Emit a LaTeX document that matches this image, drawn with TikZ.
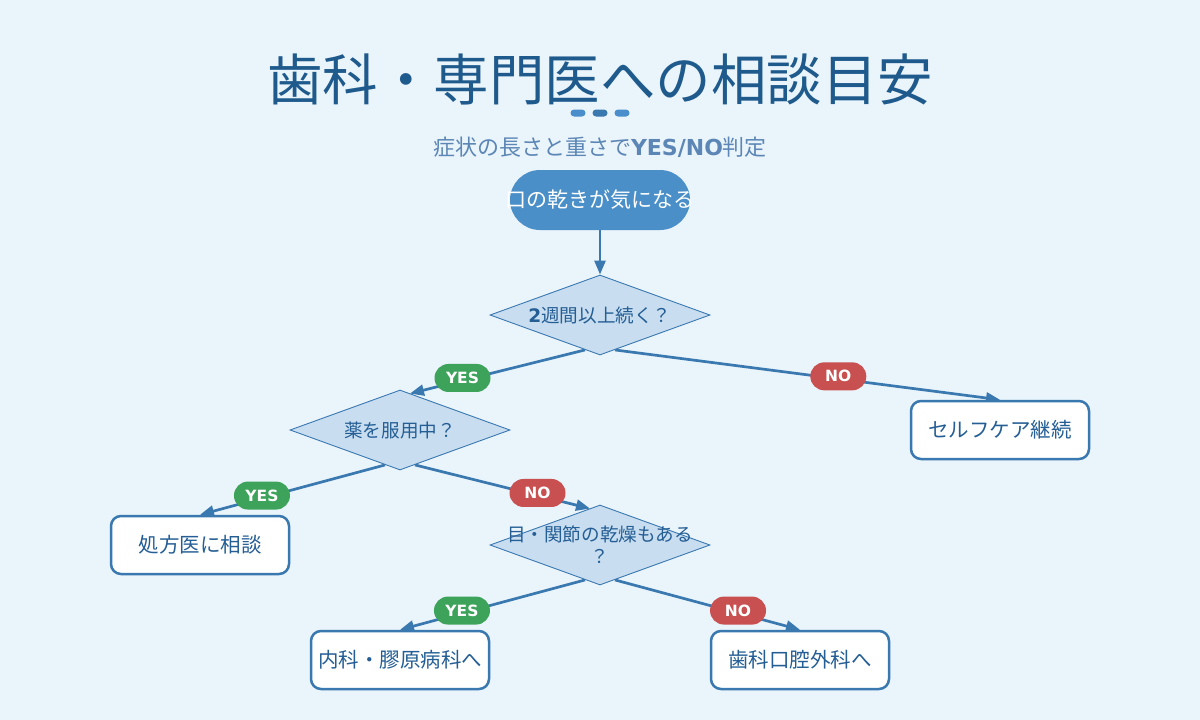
\documentclass[tikz,border=0pt]{standalone}
\usepackage{fontspec}
\setmainfont{Noto Sans CJK JP}
\newfontfamily\lat{DejaVu Sans}
\usetikzlibrary{shapes.geometric,arrows.meta}
\definecolor{bgc}{HTML}{EAF4FB}
\definecolor{titlec}{HTML}{1F5A8C}
\definecolor{subc}{HTML}{5B86B5}
\definecolor{pillc}{HTML}{4A8FC8}
\definecolor{linec}{HTML}{3A78B0}
\definecolor{dfill}{HTML}{C8DDF0}
\definecolor{txtc}{HTML}{245E94}
\definecolor{yesc}{HTML}{3DA35A}
\definecolor{noc}{HTML}{C85050}
\definecolor{dotc}{HTML}{4A8FCB}
\pgfdeclarelayer{back}
\pgfdeclarelayer{bg}
\pgfsetlayers{back,bg,main}
\tikzset{
  startpill/.style={fill=pillc, minimum width=180pt, minimum height=60pt, inner sep=0pt, rounded corners=30pt},
  decision/.style={diamond, draw=linec, line width=0.9pt, fill=dfill, minimum width=220pt, minimum height=80pt, inner sep=0pt},
  endbox/.style={draw=linec, line width=2.5pt, fill=white, rounded corners=10pt, minimum width=178pt, minimum height=58pt, inner sep=0pt, text=txtc, font=\fontsize{20.5}{24}\selectfont},
  conn/.style={draw=linec, line width=2.7pt, -{Triangle[length=14pt,width=11pt]}},
  tagbase/.style={rounded corners=14pt, minimum width=56pt, minimum height=28pt, inner sep=0pt, text=white, font=\lat\bfseries\fontsize{15.5}{18}\selectfont, yshift=2.5pt},
  yestag/.style={tagbase, fill=yesc},
  notag/.style={tagbase, fill=noc},
  dtext/.style={text=txtc, font=\fontsize{18.6}{22}\selectfont, align=center},
  dot/.style={rounded corners=3.5pt, minimum width=15pt, minimum height=7pt, inner sep=0pt}
}
\begin{document}
\begin{tikzpicture}[x=1pt,y=-1pt]
\begin{pgfonlayer}{back}
\fill[bgc] (0,0) rectangle (1200,720);
\end{pgfonlayer}
\useasboundingbox (0,0) rectangle (1200,720);

\node[text=titlec, font=\fontsize{55.5}{60}\selectfont] (title) at (600,79) {歯科・専門医への相談目安};
\node[dot, fill=dotc] (dot1) at (578,113) {};
\node[dot, fill=linec] (dot2) at (600,113) {};
\node[dot, fill=dotc] (dot3) at (622,113) {};
\node[text=subc, font=\fontsize{22}{26}\selectfont] (sub) at (600,147) {症状の長さと重さで{\lat\bfseries YES/NO}判定};

\node[startpill, label={[text=white, font=\fontsize{21}{25}\selectfont]center:口の乾きが気になる}] (start) at (600,200) {};

\node[decision, label={[dtext]center:{\lat\bfseries 2}週間以上続く？}] (d1) at (600,315) {};
\node[decision, label={[dtext]center:薬を服用中？}] (d2) at (400,430) {};
\node[decision, label={[dtext]center:目・関節の乾燥もある\\？}] (d3) at (600,545) {};

\node[endbox] (self) at (1000,430) {セルフケア継続};
\node[endbox] (rx) at (200,545) {処方医に相談};
\node[endbox] (naika) at (400,660) {内科・膠原病科へ};
\node[endbox] (shika) at (800,660) {歯科口腔外科へ};

\begin{pgfonlayer}{bg}
\draw[conn] (start.south) -- (d1.north);
\draw[conn] ([xshift=-15pt,yshift=5.5pt]d1.south) -- ([xshift=10pt,yshift=-4pt]d2.north)
  node[yestag, pos=0.7] {YES};
\draw[conn] ([xshift=15pt,yshift=5.5pt]d1.south) -- (self.north)
  node[notag, pos=0.58] {NO};
\draw[conn] ([xshift=-15pt,yshift=5.5pt]d2.south) -- (rx.north)
  node[yestag, pos=0.665] {YES};
\draw[conn] ([xshift=15pt,yshift=5.5pt]d2.south) -- ([xshift=-10pt,yshift=-4pt]d3.north)
  node[notag, pos=0.7] {NO};
\draw[conn] ([xshift=-15pt,yshift=5.5pt]d3.south) -- (naika.north)
  node[yestag, pos=0.665] {YES};
\draw[conn] ([xshift=15pt,yshift=5.5pt]d3.south) -- (shika.north)
  node[notag, pos=0.665] {NO};
\end{pgfonlayer}
\end{tikzpicture}
\end{document}
